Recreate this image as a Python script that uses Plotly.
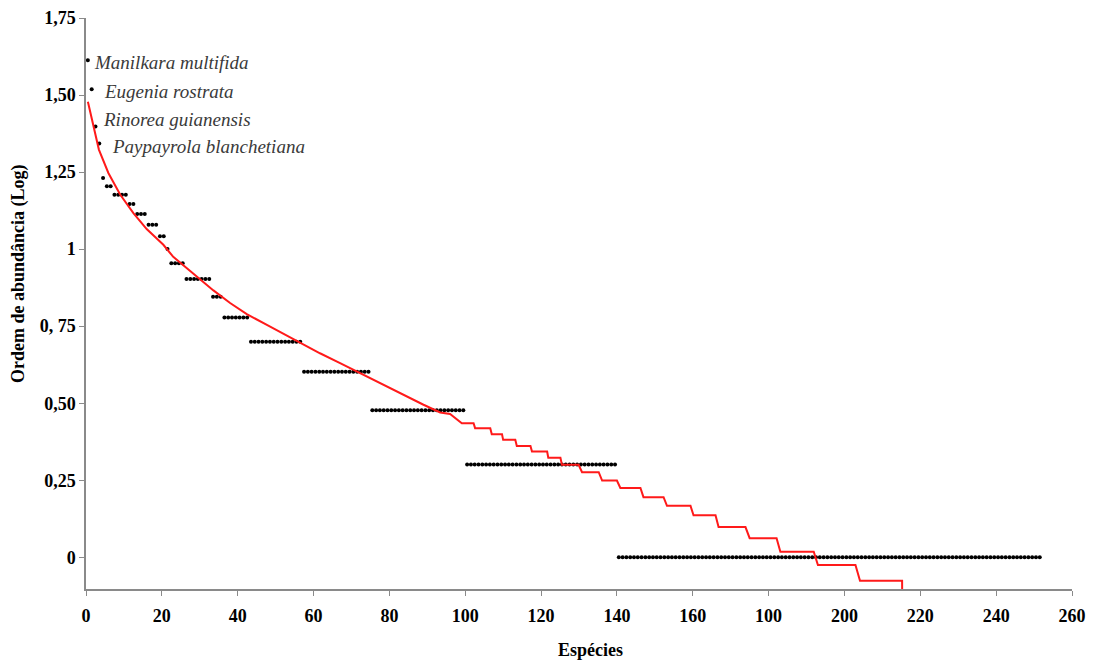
import numpy as np
import plotly.graph_objects as go

# ---- data ----
# abundance classes (individuals per species) and number of species in each class
abundance = [41, 33, 25, 22, 17, 16, 15, 14, 13, 12, 11, 10, 9, 8, 7, 6, 5, 4, 3, 2, 1]
n_species = [1, 1, 1, 1, 1, 2, 4, 2, 3, 3, 2, 1, 4, 7, 3, 7, 14, 18, 25, 40, 112]

# fitted curve (rank, log abundance)
fit_rank = [1.0, 2.4, 3.9, 6.4, 9.5, 13.0, 16.5, 20.9, 23.5, 29.7, 34.1, 38.5, 42.9,
            48.2, 53.5, 57.4, 62.2, 67.5, 71.9, 76.3, 80.7, 85.1, 89.5, 93.9, 96.5,
            99.6, 102.7, 103.1, 107.1, 107.5, 110.2, 110.5, 113.7, 114.1, 117.7,
            118.1, 122.1, 122.4, 125.6, 126.0, 130.4, 131.3, 135.7, 136.6, 140.5,
            141.4, 146.7, 147.5, 152.8, 153.7, 159.9, 160.7, 166.5, 167.3, 174.4,
            175.5, 182.6, 183.6, 192.4, 193.5, 203.4, 204.6, 215.7, 215.8]
fit_log = [1.478, 1.398, 1.323, 1.247, 1.177, 1.117, 1.065, 1.014, 0.975, 0.911, 0.866,
           0.825, 0.789, 0.754, 0.719, 0.695, 0.662, 0.630, 0.603, 0.576, 0.549, 0.521,
           0.495, 0.470, 0.465,
           0.435, 0.435, 0.419, 0.419, 0.399, 0.399, 0.381, 0.381, 0.361, 0.361,
           0.343, 0.343, 0.323, 0.323, 0.300, 0.300, 0.276, 0.276, 0.249, 0.249,
           0.225, 0.225, 0.195, 0.195, 0.167, 0.167, 0.136, 0.136, 0.098, 0.098,
           0.062, 0.062, 0.018, 0.018, -0.025, -0.025, -0.076, -0.076, -0.30]

labels = ["Manilkara multifida", "Eugenia rostrata", "Rinorea guianensis",
          "Paypayrola blanchetiana"]

y_tickvals = [0, 0.25, 0.5, 0.75, 1, 1.25, 1.5, 1.75]
y_ticktext = ["0", "0,25", "0,50", "0, 75", "1", "1,25", "1,50", "1,75"]
x_tickvals = list(range(0, 261, 20))
x_ticktext = ["0", "20", "40", "60", "80", "100", "120", "140", "160", "100",
              "200", "220", "240", "260"]

# ---- build series ----
HALF = 0.5  # points centred in their rank slot
log_ab = np.repeat(np.log10(abundance), n_species)
ranks = np.arange(1, len(log_ab) + 1)
x_pts = ranks - HALF
x_fit = np.array(fit_rank) - HALF

SERIF = "Liberation Serif, Times New Roman, serif"

OFF = 8  # default page body margin
W, H = 1094 - OFF, 664 - OFF
ML, MR, MT, MB = 86 - OFF, 22, 18 - OFF, 75
pw, ph = W - ML - MR, H - MT - MB

fig = go.Figure()
fig.add_trace(go.Scatter(x=x_pts, y=log_ab, mode="markers",
                         marker=dict(color="black", size=4),
                         showlegend=False, hoverinfo="x+y"))
fig.add_trace(go.Scatter(x=x_fit, y=fit_log, mode="lines",
                         line=dict(color="#ff1a1a", width=2),
                         showlegend=False))

shifts = [(4, -2), (10, -2), (6, 7), (11, -3)]
for i, (lab, (dx, dy)) in enumerate(zip(labels, shifts)):
    fig.add_annotation(x=x_pts[i], y=log_ab[i], xref="x", yref="y",
                       text="<i>" + lab + "</i>",
                       showarrow=False, xanchor="left", yanchor="middle",
                       xshift=dx, yshift=dy,
                       font=dict(family=SERIF, size=19, color="#3a3a3a"))


def paper(px, py):
    # page pixel coordinates -> paper coordinates
    return (px - OFF - ML) / pw, 1 - (py - OFF - MT) / ph


ex, ey = paper(590, 650)
fig.add_annotation(x=ex, y=ey, xref="paper", yref="paper", text="<b>Espécies</b>",
                   showarrow=False, xanchor="center", yanchor="middle",
                   font=dict(family=SERIF, size=18, color="black"))
tx, ty = paper(18, 274)
fig.add_annotation(x=tx, y=ty, xref="paper", yref="paper",
                   text="<b>Ordem de abundância (Log)</b>", textangle=-90,
                   showarrow=False, xanchor="center", yanchor="middle",
                   font=dict(family=SERIF, size=18, color="black"))

axis_common = dict(showgrid=False, zeroline=False, showline=True, linecolor="#8a8a8a",
                   linewidth=1.5, ticks="outside", tickcolor="#8a8a8a", ticklen=5,
                   tickwidth=1.2, automargin=False,
                   tickfont=dict(family=SERIF, size=18, color="black", weight="bold"))

fig.update_layout(
    width=W, height=H,
    margin=dict(l=ML, r=MR, t=MT, b=MB, pad=0, autoexpand=False),
    paper_bgcolor="white", plot_bgcolor="white",
    xaxis=dict(range=[0, 260], tickvals=x_tickvals, ticktext=x_ticktext,
               ticklabelstandoff=5, **axis_common),
    yaxis=dict(range=[-0.103, 1.75], tickvals=y_tickvals, ticktext=y_ticktext,
               ticklabelstandoff=0, **axis_common),
)

fig.write_html("out.html")
